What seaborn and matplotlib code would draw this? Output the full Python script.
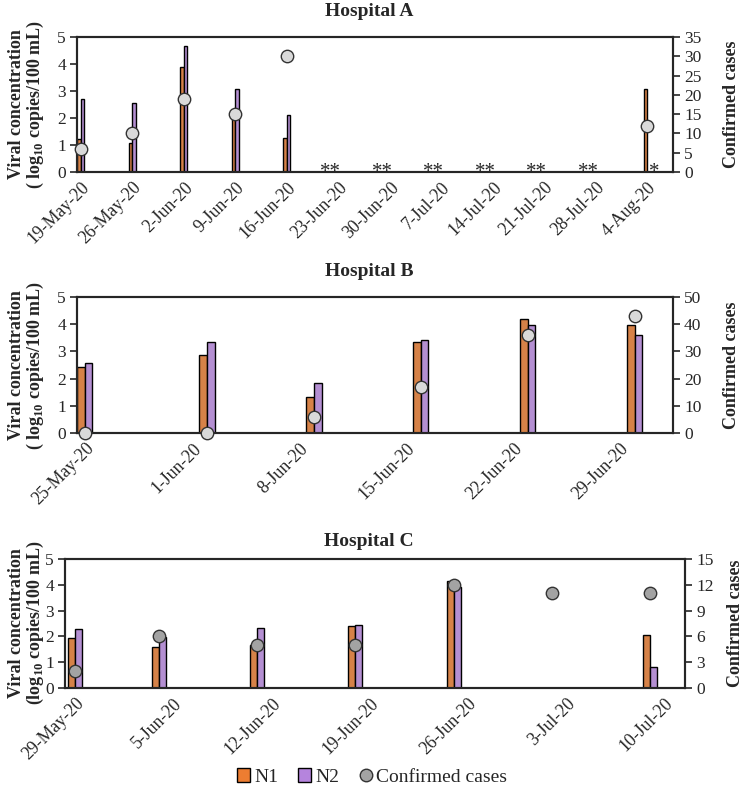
import numpy as np
import pandas as pd
import matplotlib
matplotlib.use("Agg")
import matplotlib.pyplot as plt
import seaborn as sns
from matplotlib.patches import Patch
from matplotlib.lines import Line2D

nan = np.nan

# Hospital A
a_labels = ['19-May-20', '26-May-20', '2-Jun-20', '9-Jun-20', '16-Jun-20', '23-Jun-20',
            '30-Jun-20', '7-Jul-20', '14-Jul-20', '21-Jul-20', '28-Jul-20', '4-Aug-20']
a_samples = a_labels
a_n1 = [1.21, 1.09, 3.88, 2.00, 1.25, nan, nan, nan, nan, nan, nan, 3.06]
a_n2 = [2.72, 2.57, 4.68, 3.06, 2.10, nan, nan, nan, nan, nan, nan, nan]
a_cases = [6, 10, 19, 15, 30, nan, nan, nan, nan, nan, nan, 12]
a_marks = ['', '', '', '', '', '**', '**', '**', '**', '**', '**', '*']

# Hospital B
b_labels = ['25-May-20', '1-Jun-20', '8-Jun-20', '15-Jun-20', '22-Jun-20', '29-Jun-20']
b_samples = ['25-May-20', '2-Jun-20', '9-Jun-20', '16-Jun-20', '23-Jun-20', '30-Jun-20']
b_n1 = [2.44, 2.87, 1.33, 3.36, 4.19, 3.98]
b_n2 = [2.56, 3.34, 1.85, 3.42, 3.97, 3.62]
b_cases = [0, 0, 6, 17, 36, 43]

# Hospital C
c_labels = ['29-May-20', '5-Jun-20', '12-Jun-20', '19-Jun-20', '26-Jun-20', '3-Jul-20', '10-Jul-20']
c_samples = ['29-May-20', '4-Jun-20', '11-Jun-20', '18-Jun-20', '25-Jun-20', '2-Jul-20', '9-Jul-20']
c_n1 = [1.94, 1.59, 1.68, 2.40, 4.13, nan, 2.07]
c_n2 = [2.27, 1.98, 2.33, 2.45, 3.90, nan, 0.83]
c_cases = [2, 6, 5, 5, 12, 11, 11]

ORANGE = '#ED7D31'
PURPLE = '#B584DD'
LIGHT_GRAY = '#D9D9D9'
MID_GRAY = '#A3A3A3'
FONT = 'Liberation Serif'

sns.set_style('ticks')
plt.rcParams['font.family'] = [FONT, 'DejaVu Serif']
plt.rcParams['mathtext.fontset'] = 'custom'
plt.rcParams['mathtext.rm'] = FONT
plt.rcParams['mathtext.bf'] = FONT + ':bold'
plt.rcParams['axes.linewidth'] = 1.5


def to_days(dates, start):
    d = pd.to_datetime(pd.Series(dates), format='%d-%b-%y')
    return (d - start).dt.days.to_numpy(dtype=float)


def draw_panel(ax, labels, samples, n1, n2, cases, xlim, case_max, case_step,
               dot_color, marks=None):
    start = pd.to_datetime(labels[0], format='%d-%b-%y')
    days = to_days(samples, start)
    centers = days + 0.5

    df = pd.DataFrame({'x': np.concatenate([centers, centers]),
                       'value': np.concatenate([n1, n2]),
                       'gene': ['N1'] * len(n1) + ['N2'] * len(n2)}).dropna()
    min_gap = np.diff(np.unique(df['x'])).min()
    sns.barplot(data=df, x='x', y='value', hue='gene', native_scale=True,
                palette={'N1': ORANGE, 'N2': PURPLE}, width=1.0 / min_gap,
                dodge=True, errorbar=None, edgecolor='black', linewidth=1.0,
                legend=False, ax=ax)

    ax.set_xlim(*xlim)
    ax.set_ylim(0, 5)
    ax.set_yticks(range(6))
    ax.set_xticks(to_days(labels, start) + 0.55)
    ax.set_xticklabels(labels, rotation=45, ha='right', rotation_mode='anchor', fontsize=12.8)
    ax.tick_params(axis='x', length=0, pad=5)
    ax.tick_params(axis='y', length=5, width=1.2, labelsize=12.5, pad=3)
    ax.set_xlabel('')
    ax.set_ylabel('')
    for s in ax.spines.values():
        s.set_visible(True)
        s.set_linewidth(1.5)

    # non-detect markers
    if marks is not None:
        for d, m in zip(days, marks):
            if m == '**':
                ax.text(d - 0.55, -0.2, m, ha='center', va='baseline', fontsize=15)
            elif m == '*':
                ax.text(d + 1.5, -0.2, m, ha='center', va='baseline', fontsize=15)

    ax2 = ax.twinx()
    cdf = pd.DataFrame({'x': centers, 'cases': cases}).dropna()
    sns.scatterplot(data=cdf, x='x', y='cases', ax=ax2, s=80, color=dot_color,
                    edgecolor='#333333', linewidth=1.0, zorder=5, clip_on=False,
                    legend=False)
    ax2.set_ylim(0, case_max)
    ax2.set_yticks(np.arange(0, case_max + 1, case_step))
    ax2.tick_params(axis='y', length=5, width=1.2, labelsize=12.5, pad=3)
    ax2.set_ylabel('')
    ax2.set_xlabel('')
    for s in ax2.spines.values():
        s.set_linewidth(1.5)
    return ax2


W, H = 742, 792
fig = plt.figure(figsize=(W / 100, H / 100), dpi=100)


def box(l, t, r, b):
    return [l / W, 1 - b / H, (r - l) / W, (b - t) / H]


axA = fig.add_axes(box(77, 37, 673, 172))
axB = fig.add_axes(box(77, 297, 673, 433))
axC = fig.add_axes(box(65, 559, 685, 688))

draw_panel(axA, a_labels, a_samples, a_n1, a_n2, a_cases, (0, 81), 35, 5, LIGHT_GRAY, a_marks)
draw_panel(axB, b_labels, b_samples, b_n1, b_n2, b_cases, (0, 39), 50, 10, LIGHT_GRAY)
draw_panel(axC, c_labels, c_samples, c_n1, c_n2, c_cases, (-0.2, 44), 15, 3, MID_GRAY)

titles = [('Hospital A', 12, 104), ('Hospital B', 271, 365), ('Hospital C', 542, 623)]
ylab_ab = 'Viral concentration\n( log$_{\\mathbf{10}}$ copies/100 mL)'
ylab_c = 'Viral concentration\n(log$_{\\mathbf{10}}$ copies/100 mL)'
for (t, ty, cy), lab, rx in zip(titles, [ylab_ab, ylab_ab, ylab_c], [732, 732, 735]):
    fig.text(369 / W, 1 - ty / H, t, ha='center', va='center', fontsize=14, fontweight='bold')
    fig.text(27 / W, 1 - cy / H, lab, ha='center', va='center', rotation=90,
             fontsize=13, fontweight='bold', linespacing=1.05)
    fig.text(rx / W, 1 - cy / H, 'Confirmed cases', ha='center', va='center',
             rotation=90, fontsize=13, fontweight='bold')

handles = [Patch(facecolor=ORANGE, edgecolor='black', linewidth=1.0),
           Patch(facecolor=PURPLE, edgecolor='black', linewidth=1.0),
           Line2D([], [], marker='o', linestyle='', markersize=9,
                  markerfacecolor=MID_GRAY, markeredgecolor='#333333')]
fig.legend(handles, ['N1', 'N2', 'Confirmed cases'], loc='center', ncol=3,
           bbox_to_anchor=(372 / W, 1 - 777 / H), frameon=False, fontsize=14,
           handlelength=0.7, handleheight=0.7, handletextpad=0.2, columnspacing=1.0)

fig.savefig('out.png', dpi=100)
